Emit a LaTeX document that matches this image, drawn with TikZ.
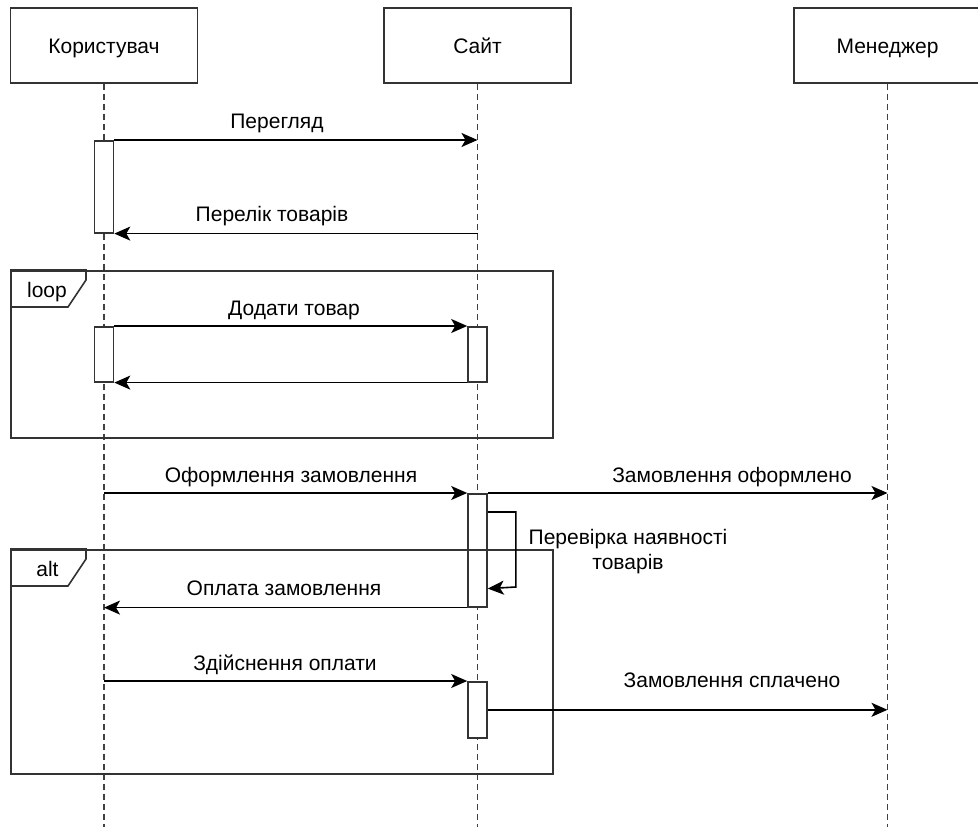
\documentclass[tikz,border=0pt]{standalone}
\usepackage{fontspec}
\setmainfont{Liberation Sans}
\usetikzlibrary{arrows.meta}

\begin{document}
\begin{tikzpicture}[x=1pt,y=-1pt,
	every node/.style={font=\fontsize{21}{25}\selectfont},
	actor/.style={draw=black!80,line width=1.8pt,minimum width=187pt,minimum height=75pt,text height=15pt,text depth=0pt,inner sep=0pt},
	lifeline/.style={draw=black!75,line width=1.6pt,dash pattern=on 6pt off 4pt},
	activ/.style={draw=black!80,fill=white,line width=1.6pt,minimum width=19pt,inner sep=0pt,anchor=north},
	fragment/.style={draw=black!80,line width=1.6pt,minimum width=542pt,inner sep=0pt,anchor=north west},
	msg/.style={line width=1.6pt,-{Stealth[length=16pt,width=14pt,inset=4pt]}},
	lbl/.style={anchor=base,inner sep=0pt}]
		\useasboundingbox (0,0) rectangle (978,827);
		
		% participants
		\node[actor] (user) at (104,45.5) {Користувач};
		\node[actor] (site) at (477.5,45.5) {Сайт};
		\node[actor] (manager) at (887.5,45.5) {Менеджер};
		
		\draw[lifeline] (user.south) -- (user.south |- 0,827);
		\draw[lifeline] (site.south) -- (site.south |- 0,827);
		\draw[lifeline] (manager.south) -- (manager.south |- 0,827);
		
		% activations
		\node[activ,minimum height=92pt] (act1) at (104,140) {};
		\node[activ,minimum height=55pt] (act2) at (104,326) {};
		\node[activ,minimum height=55pt] (act3) at (477.5,326) {};
		\node[activ,minimum height=113pt] (act4) at (477.5,493) {};
		\node[activ,minimum height=56pt] (act5) at (477.5,681) {};
		
		% loop and alt
		\node[fragment,minimum height=167pt] (loop) at (10,270) {};
		\draw[line width=1.6pt][black!80](loop.north west)--++(76,0)--++(0,10)
		--++(-18,27)--++(-58,0);
		\node[lbl] (loopname) at (47,297) {loop};
		
		\node[fragment,minimum height=224pt] (alt) at (10,549) {};
		\draw[line width=1.6pt][black!80](alt.north west)--++(76,0)--++(0,10)
		--++(-18,27)--++(-58,0);
		\node[lbl] (altname) at (47.5,576) {alt};
		
		% messages
		\draw[msg] (act1.north east) -- (act1.north east -| site);
		\node[lbl] (pereglyad) at (277,128) {Перегляд};
		
		\draw[msg] (act1.south east -| site) -- (act1.south east);
		\node[lbl] (perelik) at (272,221) {Перелік товарів};
		
		\draw[msg] (act2.north east) -- (act3.north west);
		\node[lbl] (dodaty) at (294,315) {Додати товар};
		\draw[msg] (act3.south west) -- (act2.south east);
		
		\draw[msg] (act4.north west -| user) -- (act4.north west);
		\node[lbl] (oformlennia) at (291,482) {Оформлення замовлення};
		
		\draw[msg] (act4.north east) -- (act4.north east -| manager);
		\node[lbl] (oformleno) at (732,482) {Замовлення оформлено};
		
		\draw[msg] ([yshift=-19pt]act4.north east) -- ++(28,0) -- ++(0,75)
		-- ([yshift=19pt]act4.south east);
		\node[lbl] (perevirka) at (628,544) {Перевірка наявності};
		\node[lbl] (tovariv) at (628,569) {товарів};
		
		\draw[msg] (act4.south west) -- (act4.south west -| user);
		\node[lbl] (oplata) at (284,595) {Оплата замовлення};
		
		\draw[msg] (act5.north west -| user) -- (act5.north west);
		\node[lbl] (zdiisnennia) at (285,670) {Здійснення оплати};
		
		\draw[msg] (act5.east) -- (act5.east -| manager);
		\node[lbl] (splacheno) at (732,687) {Замовлення сплачено};
\end{tikzpicture}
\end{document}
